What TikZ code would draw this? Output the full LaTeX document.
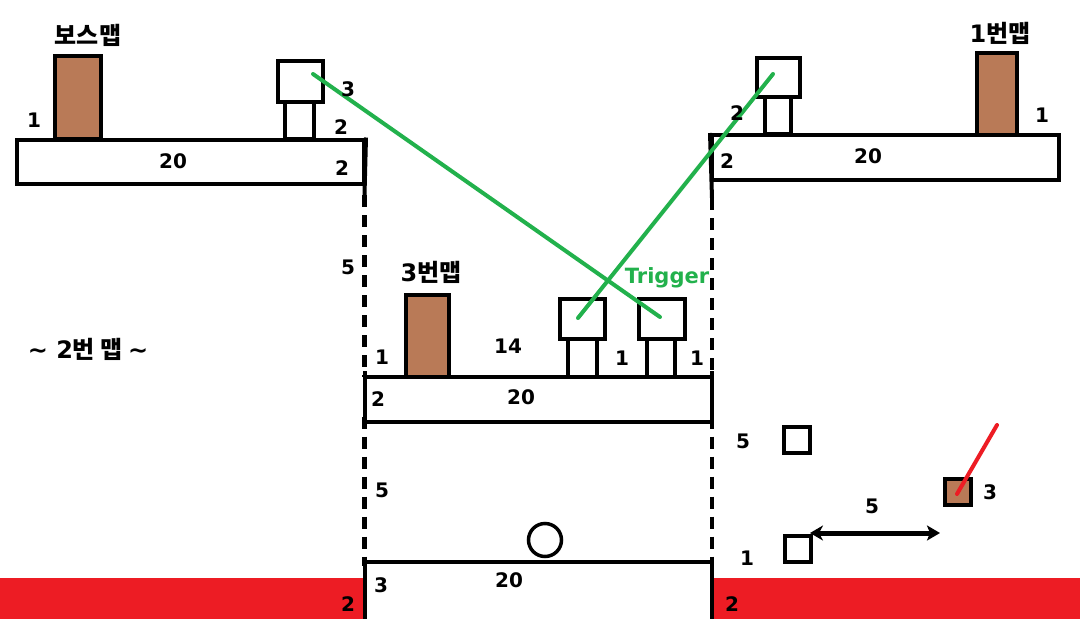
\documentclass[tikz,border=0pt]{standalone}
\usepackage{fontspec}
\setmainfont{DejaVu Sans}
\newfontfamily\kr{Noto Sans CJK KR}
\usetikzlibrary{arrows.meta}
\definecolor{paintgreen}{RGB}{34,177,76}
\definecolor{paintred}{RGB}{237,28,36}
\definecolor{paintbrown}{RGB}{185,122,87}
\begin{document}
\begin{tikzpicture}[x=1pt,y=-1pt,line width=4pt,
  lbl/.style={font=\fontsize{20}{22}\selectfont\bfseries,inner sep=0pt},
  krlbl/.style={font=\kr\fontsize{24}{26}\selectfont\bfseries,inner sep=0pt},
  trig/.style={font=\fontsize{21}{23}\selectfont\bfseries,text=paintgreen,inner sep=0pt},
  boxw/.style={draw,fill=white,line width=4pt,inner sep=0pt},
  door/.style={draw,fill=paintbrown,line width=4pt,inner sep=0pt},
  greenline/.style={draw=paintgreen,line width=4pt,line cap=round},
  redline/.style={draw=paintred,line width=4pt,line cap=round},
  dashline/.style={line width=4.5pt,dash pattern=on 12pt off 8pt},
  dimline/.style={line width=5pt,line cap=round,{Stealth[length=13pt,width=15pt,inset=4pt]}-{Stealth[length=13pt,width=15pt,inset=3pt]}},
]
\useasboundingbox (0,0) rectangle (1080,619);
\fill[white] (0,0) rectangle (1080,619);

% red lava
\fill[paintred] (0,578) rectangle (364,619);
\fill[paintred] (712,578) rectangle (1080,619);

% platforms
\node[boxw,minimum width=347,minimum height=44.5] (plTL) at (190.5,161.75) {};
\node[boxw,minimum width=347,minimum height=45] (plTR) at (885.5,157.5) {};
\node[boxw,minimum width=347,minimum height=44.5] (plM) at (538.5,399.25) {};

% walls
\coordinate (wl1) at (364.5,184);
\coordinate (wl1b) at (364.5,195);
\coordinate (wl2) at (364.5,377);
\coordinate (wl3) at (364.5,421.5);
\coordinate (wl4) at (364.5,562);
\coordinate (wl5) at (364.5,619);
\coordinate (wr1) at (712,180);
\coordinate (wr1b) at (712,198);
\coordinate (wr2) at (712,377);
\coordinate (wr3) at (712,421.5);
\coordinate (wr4) at (712,562);
\coordinate (wr5) at (712,619);
\draw (plTL.north east) -- (wl1b);
\draw (plTR.north west) -- (wr1b);
\draw[dashline] (wl1b) -- (wl2);
\draw[dashline] (wr1b) -- (wr2);
\draw (wl2) ++(0,-6) -- (wl3) -- ++(0,5);
\draw (wr2) ++(0,-6) -- (wr3) -- ++(0,5);
\draw[dashline] ([yshift=5pt]wl3) -- ([yshift=-4pt]wl4);
\draw[dashline] ([yshift=5pt]wr3) -- ([yshift=-4pt]wr4);
\draw ([yshift=-4pt]wl4) -- (wl5);
\draw ([yshift=-4pt]wr4) -- (wr5);
\draw (wl4) -- (wr4);

% doors
\node[door,minimum width=46,minimum height=83] (boss) at (78,97.5) {};
\node[door,minimum width=40,minimum height=82] (map1) at (997,93.5) {};
\node[door,minimum width=43,minimum height=82] (map3) at (427.5,336) {};

% switches
\node[boxw,minimum width=29,minimum height=38] (pedTL) at (299.5,120) {};
\node[boxw,minimum width=45,minimum height=41] (headTL) at (300.5,81) {};
\node[boxw,minimum width=26,minimum height=37] (pedTR) at (778,115.5) {};
\node[boxw,minimum width=43,minimum height=39] (headTR) at (778.5,77.5) {};
\node[boxw,minimum width=29,minimum height=38] (pedM1) at (582.5,358) {};
\node[boxw,minimum width=45,minimum height=40] (headM1) at (582.5,319) {};
\node[boxw,minimum width=28,minimum height=38] (pedM2) at (661,358) {};
\node[boxw,minimum width=46,minimum height=40] (headM2) at (662,319) {};

% ball
\node[draw,circle,line width=3.5pt,minimum size=33,inner sep=0pt] (ball) at (545,540) {};

% right area blocks
\node[boxw,minimum width=26,minimum height=26] (blk1) at (797,440) {};
\node[door,minimum width=26,minimum height=26] (blk2) at (958,492) {};
\node[boxw,minimum width=26,minimum height=26] (blk3) at (798,549) {};
\coordinate (arL) at (810,533);
\coordinate (arR) at (940,533);
\draw[dimline] (arL) -- (arR);
\coordinate (redEnd) at (997,425);
\draw[redline] ([xshift=-1pt,yshift=-2pt]blk2.center) -- (redEnd);

% trigger lines
\draw[greenline] ([xshift=12.5pt,yshift=7pt]headTL.center) -- ([xshift=-2pt,yshift=2pt]headM2.center);
\draw[greenline] ([xshift=-5.5pt,yshift=3.5pt]headTR.center) -- ([xshift=-4.5pt,yshift=1pt]headM1.center);

% labels
\node[krlbl] (tBoss) at (88,35) {보스맵};
\node[lbl] (l1) at (34,120) {1};
\node[lbl] (l2) at (348,89) {3};
\node[lbl] (l3) at (341,127) {2};
\node[lbl] (l4) at (342,168) {2};
\node[lbl] (l5) at (173,161) {20};

\node[krlbl] (tMap1) at (1000,33) {\fontspec{DejaVu Sans}\bfseries 1\kr\bfseries 번맵};
\node[lbl] (l6) at (1042,115) {1};
\node[lbl] (l7) at (737,113) {2};
\node[lbl] (l8) at (727,161) {2};
\node[lbl] (l9) at (868,156) {20};

\node[lbl] (l10) at (348,267) {5};
\node[krlbl] (tMap3) at (431,272) {\fontspec{DejaVu Sans}\bfseries 3\kr\bfseries 번맵};
\node[trig,anchor=base] (tTrig) at (667,283) {Trigger};
\node[lbl] (l11) at (382,357) {1};
\node[lbl] (l12) at (508,346) {14};
\node[lbl] (l13) at (622,358) {1};
\node[lbl] (l14) at (697,358) {1};
\node[lbl] (l15) at (378,399) {2};
\node[lbl] (l16) at (521,397) {20};

\node[krlbl] (tMap2) at (88,349) {\fontspec{DejaVu Sans}\bfseries \textasciitilde{} 2\kr\bfseries 번 맵 \fontspec{DejaVu Sans}\bfseries\textasciitilde};

\node[lbl] (l17) at (382,490) {5};
\node[lbl] (l18) at (381,585) {3};
\node[lbl] (l19) at (509,580) {20};
\node[lbl] (l20) at (348,604) {2};
\node[lbl] (l21) at (732,604) {2};

\node[lbl] (l22) at (743,441) {5};
\node[lbl] (l23) at (990,492) {3};
\node[lbl] (l24) at (872,506) {5};
\node[lbl] (l25) at (747,558) {1};
\end{tikzpicture}
\end{document}
